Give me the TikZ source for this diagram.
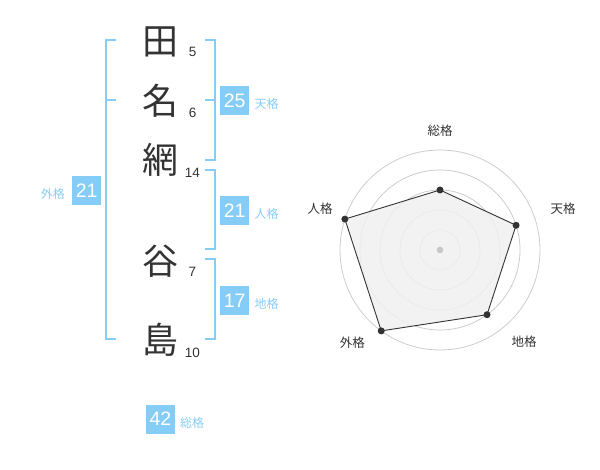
\documentclass[tikz,border=0pt]{standalone}
\usepackage{fontspec}
\setmainfont{Liberation Sans}
\newfontfamily\jp{Noto Sans CJK JP}
\definecolor{kblue}{HTML}{85CDF7}
\definecolor{ktext}{HTML}{333333}
\definecolor{kring}{HTML}{CCCCCC}
\tikzset{
  kanji/.style={inner sep=0pt, text=ktext, font=\jp\fontsize{36}{36}\selectfont},
  stroke/.style={inner sep=0pt, text=ktext, font=\fontsize{13.5}{13.5}\selectfont},
  numbox/.style={fill=kblue, text=white, minimum size=29pt, inner sep=0pt, font=\fontsize{19.5}{19.5}\selectfont},
  lbl/.style={inner sep=0pt, text=kblue, font=\jp\fontsize{12}{12}\selectfont},
  brk/.style={draw=kblue, line width=2pt},
  ring/.style={draw=kring, line width=0.8pt},
  axlbl/.style={inner sep=0pt, text=ktext, font=\jp\fontsize{12.5}{12.5}\selectfont},
  vdot/.style={circle, fill=ktext, inner sep=0pt, minimum size=7pt},
}
\begin{document}
\begin{tikzpicture}[x=1pt,y=-1pt]
\useasboundingbox (0,0) rectangle (600,470);
% characters
\node[kanji] (c1) at (160,42) {田};
\node[kanji] (c2) at (160,101) {名};
\node[kanji] (c3) at (160,160) {網};
\node[kanji] (c4) at (160,261) {谷};
\node[kanji] (c5) at (160,340) {島};
% stroke counts
\node[stroke] (s1) at (192.7,52.3) {5};
\node[stroke] (s2) at (192.7,112.7) {6};
\node[stroke] (s3) at (192.3,173.3) {14};
\node[stroke] (s4) at (192.3,272.3) {7};
\node[stroke] (s5) at (192.3,352.7) {10};
% brackets
\draw[brk] (116,40) -- (105.5,40) -- (105.5,339.5) -- (116,339.5);
\draw[brk] (105.5,100) -- (116,100);
\draw[brk] (205,40) -- (214.5,40) -- (214.5,160) -- (205,160);
\draw[brk] (205,100) -- (214.5,100);
\draw[brk] (205,170) -- (214.5,170) -- (214.5,249.5) -- (205,249.5);
\draw[brk] (205,259.5) -- (214.5,259.5) -- (214.5,339.5) -- (205,339.5);
% boxes and labels
\node[numbox] (b1) at (234.7,100.3) {25};
\node[lbl, anchor=west] (l1) at (254.5,103.5) {天格};
\node[numbox] (b2) at (234.7,210.5) {21};
\node[lbl, anchor=west] (l2) at (254.5,213.5) {人格};
\node[numbox] (b3) at (234.7,300.5) {17};
\node[lbl, anchor=west] (l3) at (254.5,303.5) {地格};
\node[numbox] (b4) at (86.7,190.5) {21};
\node[lbl, anchor=east] (l4) at (65,193.5) {外格};
\node[numbox] (b5) at (160.5,419) {42};
\node[lbl, anchor=west] (l5) at (180,422.5) {総格};
% radar chart
\coordinate (rc) at (440,250);
\begin{scope}[shift={(rc)}, y=1pt]
  \foreach \r in {20,40,60,80,100} \draw[ring] (0,0) circle[radius=\r pt];
  \coordinate (p1) at (90:60);
  \coordinate (p2) at (18:80);
  \coordinate (p3) at (-54:80);
  \coordinate (p4) at (-126:100);
  \coordinate (p5) at (162:100);
  \fill[black!6, fill opacity=0.85] (p1) -- (p2) -- (p3) -- (p4) -- (p5) -- cycle;
  \draw[ktext, line width=0.9pt, line join=round] (p1) -- (p2) -- (p3) -- (p4) -- (p5) -- cycle;
  \foreach \p in {p1,p2,p3,p4,p5} \node[vdot] at (\p) {};
  \fill[black!22] (0,0) circle[radius=3.3pt];
\end{scope}
\node[axlbl] (a1) at (440,130.5) {総格};
\node[axlbl] (a2) at (563,209) {天格};
\node[axlbl] (a3) at (524,342) {地格};
\node[axlbl] (a4) at (352.3,342.3) {外格};
\node[axlbl] (a5) at (320,209) {人格};
\end{tikzpicture}
\end{document}
